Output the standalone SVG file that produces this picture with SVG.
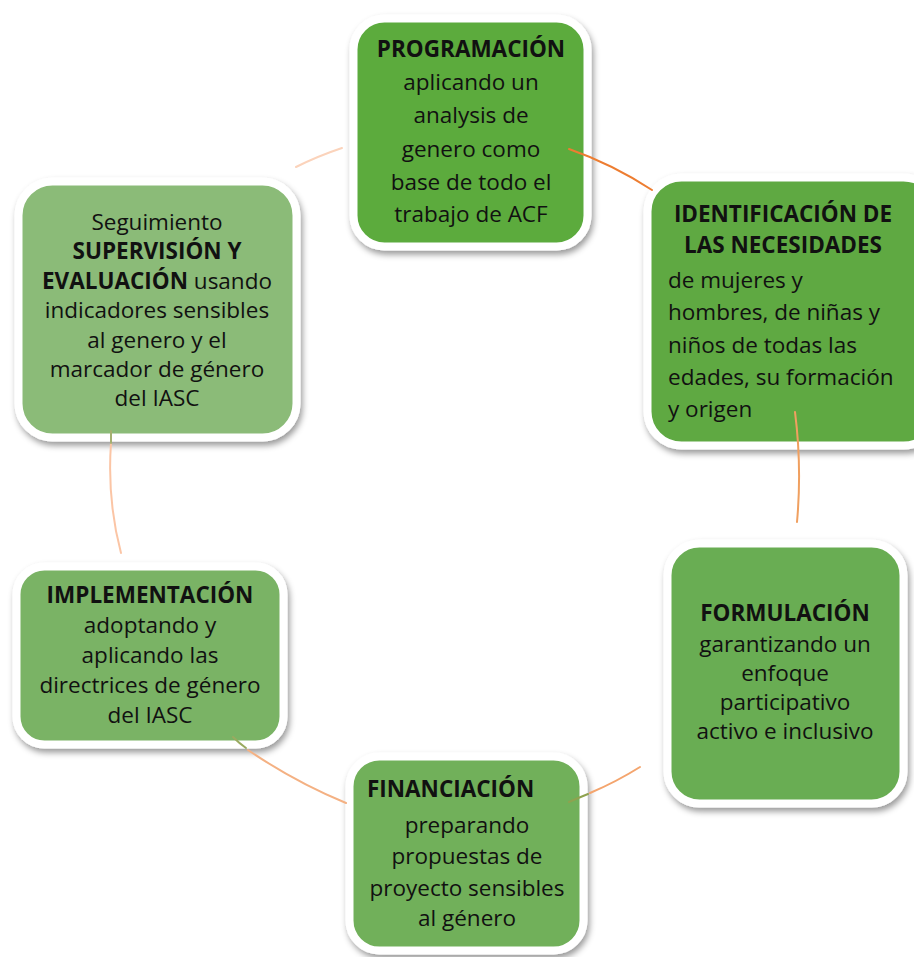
<svg xmlns="http://www.w3.org/2000/svg" width="914" height="957" viewBox="0 0 914 957">
<defs>
<filter id="sh" x="-10%" y="-10%" width="125%" height="130%">
<feDropShadow dx="2" dy="4" stdDeviation="3" flood-color="#000" flood-opacity="0.4"/>
</filter>
<style>
.box{stroke:#fff;stroke-width:8;filter:url(#sh)}
.t{font-family:"Open Sans","Liberation Sans",sans-serif;font-size:22.5px;fill:#111;text-anchor:middle}
.l{text-anchor:start}
.b{font-weight:bold}
.c{fill:none;stroke-width:2;stroke-linecap:round}
</style>
</defs>
<rect width="914" height="957" fill="#fff"/>

<g id="programacion">
<rect class="box" x="353.5" y="18.5" width="234" height="228" rx="31" fill="#5bab3e"/>
<text class="t b" x="471" y="57">PROGRAMACIÓN</text>
<text class="t" x="471" y="90">aplicando un</text>
<text class="t" x="471" y="123">analysis de</text>
<text class="t" x="471" y="157">genero como</text>
<text class="t" x="471" y="190">base de todo el</text>
<text class="t" x="471" y="222">trabajo de ACF</text>
</g>

<g id="identificacion">
<rect class="box" x="647.5" y="177.5" width="290" height="268" rx="34" fill="#5ea943"/>
<text class="t b" x="783" y="222">IDENTIFICACIÓN DE</text>
<text class="t b" x="783" y="253">LAS NECESIDADES</text>
<text class="t l" x="668" y="288">de mujeres y</text>
<text class="t l" x="668" y="320">hombres, de niñas y</text>
<text class="t l" x="668" y="353">niños de todas las</text>
<text class="t l" x="668" y="385">edades, su formación</text>
<text class="t l" x="668" y="417">y origen</text>
</g>

<g id="formulacion">
<rect class="box" x="667.5" y="543.5" width="236" height="260" rx="32" fill="#69ad52"/>
<text class="t b" x="785" y="621">FORMULACIÓN</text>
<text class="t" x="785" y="652">garantizando un</text>
<text class="t" x="785" y="681">enfoque</text>
<text class="t" x="785" y="710">participativo</text>
<text class="t" x="785" y="739">activo e inclusivo</text>
</g>

<g id="financiacion">
<rect class="box" x="349.5" y="756.5" width="234" height="194" rx="30" fill="#71b05a"/>
<text class="t b l" x="367" y="797">FINANCIACIÓN</text>
<text class="t" x="467" y="833">preparando</text>
<text class="t" x="467" y="864">propuestas de</text>
<text class="t" x="467" y="896">proyecto sensibles</text>
<text class="t" x="467" y="926">al género</text>
</g>

<g id="implementacion">
<rect class="box" x="16.5" y="566.5" width="267" height="178" rx="28" fill="#7ab365"/>
<text class="t b" x="150" y="603">IMPLEMENTACIÓN</text>
<text class="t" x="150" y="633">adoptando y</text>
<text class="t" x="150" y="663">aplicando las</text>
<text class="t" x="150" y="693">directrices de género</text>
<text class="t" x="150" y="723">del IASC</text>
</g>

<g id="supervision">
<rect class="box" x="18.5" y="181.5" width="278" height="256" rx="34" fill="#8bbb78"/>
<text class="t" x="157" y="230">Seguimiento</text>
<text class="t b" x="157" y="259">SUPERVISIÓN Y</text>
<text class="t" x="157" y="289"><tspan class="b">EVALUACIÓN</tspan> usando</text>
<text class="t" x="157" y="318">indicadores sensibles</text>
<text class="t" x="157" y="348">al genero y el</text>
<text class="t" x="157" y="377">marcador de género</text>
<text class="t" x="157" y="406">del IASC</text>
</g>

<g id="connectors">
<path class="c" d="M296,167 Q318,156 342,148" stroke="#fbd3bb"/>
<path class="c" d="M569,149 Q612,164 652,190" stroke="#ed7d31"/>
<path class="c" d="M795,412 Q802,467 797,522" stroke="#f0a060"/>
<path class="c" d="M640,767 Q616,782 590,793" stroke="#f4a56e"/>
<path class="c" d="M588,794 Q578,798 569,802" stroke="#8fa24f"/>
<path class="c" d="M346,803 Q295,782 248,750" stroke="#f4b183"/>
<path class="c" d="M246,748 Q239,743 233,737" stroke="#9aaa60"/>
<path class="c" d="M121,553 Q107,500 111,443" stroke="#fbc5a5"/>
<path class="c" d="M111,443 L111,431" stroke="#a5b070"/>
</g>
</svg>
